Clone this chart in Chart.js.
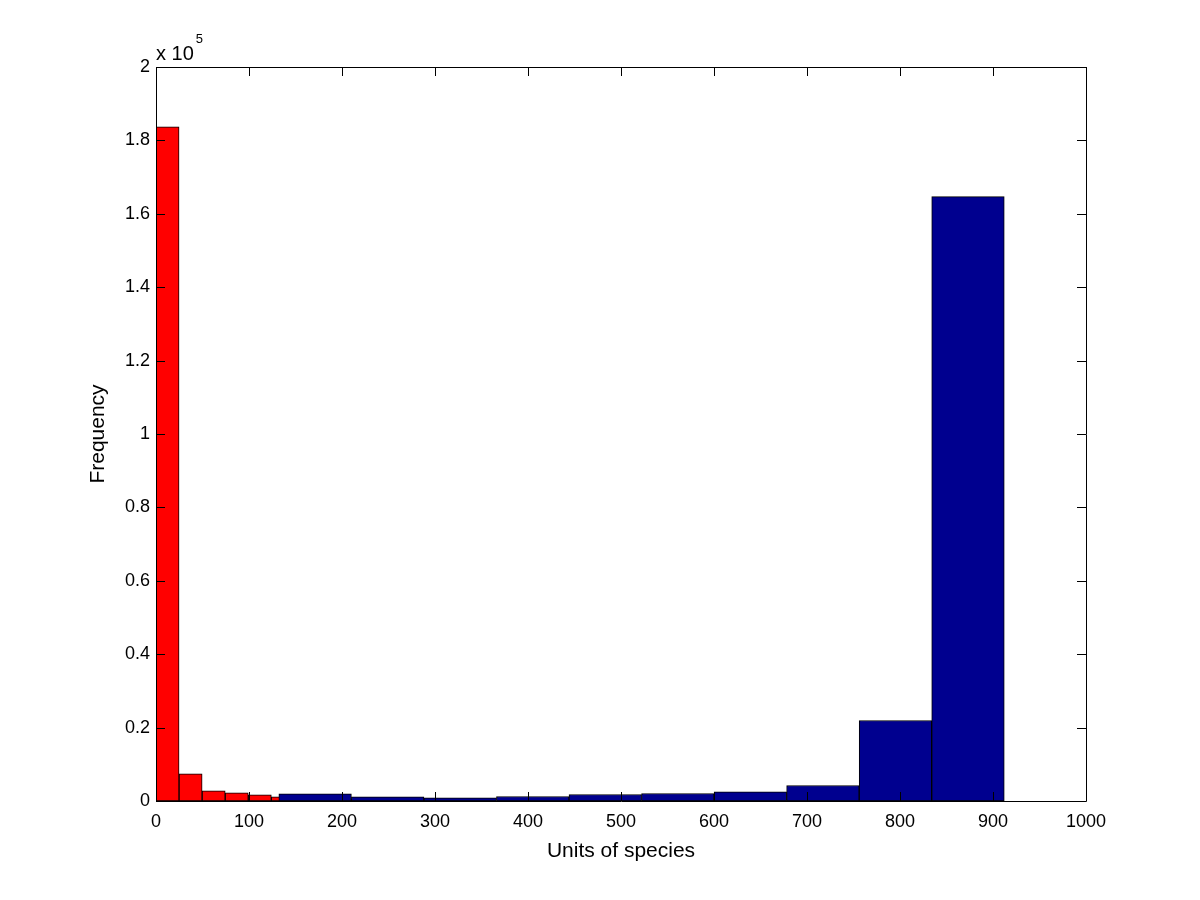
<!DOCTYPE html>
<html>
<head>
<meta charset="utf-8">
<script src="https://cdn.jsdelivr.net/npm/chart.js@4.4.1/dist/chart.umd.min.js"></script>
<style>
  html, body { margin: 0; padding: 0; background: #ffffff; }
  #wrap { width: 1200px; height: 900px; position: relative; }
</style>
</head>
<body>
<div id="wrap"><canvas id="c" width="1200" height="900"></canvas></div>
<script>
// Red histogram: bin centres (units of species) and counts
const redCenters = [12.4, 37.2, 62.0, 86.8, 111.6, 136.4, 161.2, 186.0, 210.8, 235.6];
const redCounts  = [183700, 7410, 2780, 2230, 1690, 1140, 550, 450, 550, 600];
// Blue histogram: bin centres and counts
const blueCenters = [171.1, 249.1, 327.1, 405.1, 483.1, 561.1, 639.1, 717.1, 795.1, 873.1];
const blueCounts  = [1960, 1140, 870, 1230, 1770, 2040, 2510, 4220, 21930, 164700];
// Axis ticks
const xTicks = [0, 100, 200, 300, 400, 500, 600, 700, 800, 900, 1000];
const yTicks = [0, 20000, 40000, 60000, 80000, 100000, 120000, 140000, 160000, 180000, 200000];
const yExponentBase = 'x 10';
const yExponent = '5';
const xTitle = 'Units of species';
const yTitle = 'Frequency';

const FONT = '"Liberation Sans", Arial, Helvetica, sans-serif';
const FS = 18;
const TFS = 21;

const frameTicks = {
  id: 'frameTicks',
  afterDatasetsDraw(chart) {
    const ctx = chart.ctx;
    const a = chart.chartArea;
    const xs = chart.scales.x, ys = chart.scales.y;
    const L = 9;
    ctx.save();
    ctx.strokeStyle = '#000';
    ctx.lineWidth = 1;
    ctx.beginPath();
    ctx.rect(Math.round(a.left) + 0.5, Math.round(a.top) + 0.5, Math.round(a.right - a.left), Math.round(a.bottom - a.top));
    ctx.stroke();
    ctx.beginPath();
    xTicks.forEach(v => {
      const px = Math.round(xs.getPixelForValue(v)) + 0.5;
      ctx.moveTo(px, a.bottom); ctx.lineTo(px, a.bottom - L);
      ctx.moveTo(px, a.top); ctx.lineTo(px, a.top + L);
    });
    yTicks.forEach(v => {
      const py = Math.round(ys.getPixelForValue(v)) + 0.5;
      ctx.moveTo(a.left, py); ctx.lineTo(a.left + L, py);
      ctx.moveTo(a.right, py); ctx.lineTo(a.right - L, py);
    });
    ctx.stroke();
    // exponent label
    ctx.fillStyle = '#000';
    ctx.textBaseline = 'alphabetic';
    ctx.textAlign = 'left';
    ctx.font = '20px ' + FONT;
    const bx = a.left, by = a.top - 7;
    ctx.fillText(yExponentBase, bx, by);
    const w = ctx.measureText(yExponentBase).width;
    ctx.font = '13px ' + FONT;
    ctx.fillText(yExponent, bx + w + 2, by - 17);
    ctx.restore();
  }
};

const ctx = document.getElementById('c').getContext('2d');
new Chart(ctx, {
  type: 'bar',
  data: {
    datasets: [
      {
        label: 'blue',
        data: blueCenters.map((x, i) => ({ x: x, y: blueCounts[i] })),
        xAxisID: 'x2',
        backgroundColor: '#00008F',
        borderColor: '#000000',
        borderWidth: 1,
        borderSkipped: false,
        barPercentage: 1.0,
        categoryPercentage: 1.0,
        grouped: false,
        order: 1
      },
      {
        label: 'red',
        data: redCenters.map((x, i) => ({ x: x, y: redCounts[i] })),
        xAxisID: 'x',
        backgroundColor: '#FF0000',
        borderColor: '#000000',
        borderWidth: 1,
        borderSkipped: false,
        barPercentage: 1.0,
        categoryPercentage: 1.0,
        grouped: false,
        order: 2
      }
    ]
  },
  plugins: [frameTicks],
  options: {
    responsive: false,
    animation: false,
    devicePixelRatio: 1,
    layout: { padding: { left: 86, right: 114, top: 67, bottom: 36 } },
    plugins: { legend: { display: false }, tooltip: { enabled: false } },
    scales: {
      x: {
        type: 'linear', position: 'bottom', min: 0, max: 1000, offset: false,
        afterBuildTicks: s => { s.ticks = xTicks.map(v => ({ value: v })); },
        afterFit: s => { s.height = 63; },
        grid: { display: false, drawTicks: false, offset: false },
        border: { display: false },
        ticks: { color: '#000', padding: 10, maxRotation: 0, autoSkip: false, font: { family: FONT, size: FS },
          callback: v => String(v) },
        title: { display: true, text: xTitle, color: '#000', padding: 0, font: { family: FONT, size: TFS } }
      },
      x2: {
        type: 'linear', position: 'bottom', min: 0, max: 1000, display: false, offset: false,
        grid: { offset: false },
        afterBuildTicks: s => { s.ticks = xTicks.map(v => ({ value: v })); }
      },
      y: {
        type: 'linear', min: 0, max: 200000,
        afterBuildTicks: s => { s.ticks = yTicks.map(v => ({ value: v })); },
        afterFit: s => { s.width = 70; },
        grid: { display: false, drawTicks: false },
        border: { display: false },
        ticks: {
          color: '#000', padding: 6, autoSkip: false, font: { family: FONT, size: FS },
          callback: v => String(Number((v / 100000).toFixed(1)))
        },
        title: { display: true, text: yTitle, color: '#000', padding: 0, font: { family: FONT, size: TFS } }
      }
    }
  }
});
</script>
</body>
</html>
